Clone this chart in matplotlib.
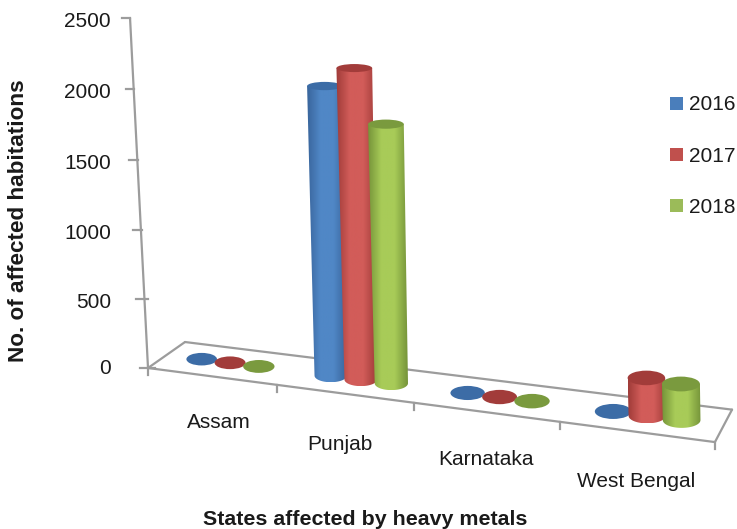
import matplotlib
matplotlib.use('Agg')
import matplotlib.pyplot as plt
from matplotlib.colors import LinearSegmentedColormap
from matplotlib.patches import Ellipse, PathPatch, Rectangle
from matplotlib.path import Path
import numpy as np

plt.rcParams['font.family'] = ['Liberation Sans', 'DejaVu Sans']

states = ['Assam', 'Punjab', 'Karnataka', 'West Bengal']
years = ['2016', '2017', '2018']
values_2016 = [5, 2040, 5, 3]
values_2017 = [5, 2177, 5, 253]
values_2018 = [5, 1805, 5, 240]
y_ticks = [0, 500, 1000, 1500, 2000, 2500]

top_colors = ['#3c6ca6', '#a23c3a', '#7a9a3e']
edge_colors = ['#39659c', '#a03c39', '#76953a']
mid_colors = ['#5087c6', '#d25c59', '#a8cb58']
legend_colors = ['#4a7ebb', '#c0504d', '#9bbb59']

Y_MAX = 2500.0
BAR_STEP = 0.225
BAR_R = 0.122
GREY = '#9c9c9c'
TEXT = '#1a1a1a'

# label nudges, the source labels do not sit evenly along the floor
label_dx = [7, -5, 0, 0]
label_dy = [46, 51, 47, 50]


# Func to map chart space (category, depth, value) to picture pixels
def project(u, d, v):
    h = v / Y_MAX
    w = 1 - 0.029 * u + 0.040 * d - 0.018 * h
    x = 148 + 121 * u + 44.4 * d - 20.3 * h
    y = 368 + 5.7 * u - 12.3 * d - 350.3 * h
    return x / w, y / w


def line3d(ax, p1, p2, lw=1.6):
    a = project(*p1)
    b = project(*p2)
    ax.plot([a[0], b[0]], [a[1], b[1]], color=GREY, lw=lw, solid_capstyle='round', zorder=1)


def draw_cylinder(ax, u, value, i):
    x0, y0 = project(u, 0.5, 0)
    _, y1 = project(u, 0.5, value)
    # bars lean far less than the value axis
    x1 = x0 - 6 * value / 2000
    w0 = project(u + BAR_R, 0.5, 0)[0] - project(u - BAR_R, 0.5, 0)[0]
    w1 = w0 * (1 + 0.08 * value / 2000)
    h0 = w0 * 0.41
    h1 = w1 * (0.41 - 0.17 * value / 2000)

    if value > 50:
        # side of the cylinder, shaded left to right
        t = np.linspace(np.pi, 0, 40)
        bx = x0 + w0 / 2 * np.cos(t)
        by = y0 + h0 / 2 * np.sin(t)
        verts = list(zip(bx, by)) + [(x1 + w1 / 2, y1), (x1 - w1 / 2, y1)]
        patch = PathPatch(Path(verts + [verts[0]], closed=True), fc='none', ec='none')
        ax.add_patch(patch)
        cmap = LinearSegmentedColormap.from_list('c', [edge_colors[i], mid_colors[i], mid_colors[i], edge_colors[i]])
        grad = np.linspace(0, 1, 64).reshape(1, -1)
        left = min(x0 - w0 / 2, x1 - w1 / 2)
        right = max(x0 + w0 / 2, x1 + w1 / 2)
        im = ax.imshow(grad, cmap=cmap, extent=[left, right, y0 + h0 / 2, y1], aspect='auto', zorder=3 + u)
        im.set_clip_path(patch)
        ax.add_patch(Ellipse((x1, y1), w1, h1, fc=top_colors[i], ec='none', zorder=3 + u))
    else:
        ax.add_patch(Ellipse((x0, y0), w0, h0, fc=top_colors[i], ec='none', zorder=3 + u))


def main():
    fig = plt.figure(figsize=(7.37, 5.29), dpi=100, facecolor='white')
    ax = fig.add_axes([0, 0, 1, 1])
    ax.axis('off')

    n = len(states)

    # Floor and value axis
    line3d(ax, (0, 0, 0), (n, 0, 0))
    line3d(ax, (0, 1, 0), (n, 1, 0))
    line3d(ax, (0, 0, 0), (0, 1, 0))
    line3d(ax, (n, 0, 0), (n, 1, 0))
    line3d(ax, (0, 0, 0), (0, 0, Y_MAX))

    for v in y_ticks:
        x, y = project(0, 0, v)
        # ticks cross the axis a little more towards the bottom
        over = 7 * (1 - v / Y_MAX) ** 3
        ax.plot([x - 8, x + over], [y, y], color=GREY, lw=1.6, zorder=1)
        ax.text(111, y + (1 if v == 0 else 3.5), str(v), ha='right', va='center', fontsize=15, color=TEXT)

    for k in range(n + 1):
        x, y = project(k, 0, 0)
        ax.plot([x, x], [y, y + 7], color=GREY, lw=1.6, zorder=1)

    # Bars
    series = [values_2016, values_2017, values_2018]
    for c in range(n):
        for i, vals in enumerate(series):
            draw_cylinder(ax, c + 0.505 + (i - 1) * BAR_STEP, vals[c], i)

    # Category labels step down with the floor
    for c, name in enumerate(states):
        x, y = project(c + 0.5, 0, 0)
        ax.text(x + label_dx[c], y + label_dy[c], name, ha='center', va='center', fontsize=15, color=TEXT)

    # Legend
    for i, year in enumerate(years):
        ly = 103.5 + i * 51.2
        ax.add_patch(Rectangle((670, ly - 6.5), 13, 13, fc=legend_colors[i], ec='none'))
        ax.text(689.5, ly + 1.5, year, ha='left', va='center', fontsize=15, color=TEXT)

    ax.text(365, 519.5, 'States affected by heavy metals', ha='center', va='center',
            fontsize=15.4, fontweight='bold', color=TEXT)
    ax.text(18.5, 221, 'No. of affected habitations', ha='center', va='center', rotation=90,
            fontsize=16.2, fontweight='bold', color=TEXT)

    ax.set_xlim(0, 737)
    ax.set_ylim(529, 0)
    fig.savefig('out.png', dpi=100)


if __name__ == "__main__":
    main()
